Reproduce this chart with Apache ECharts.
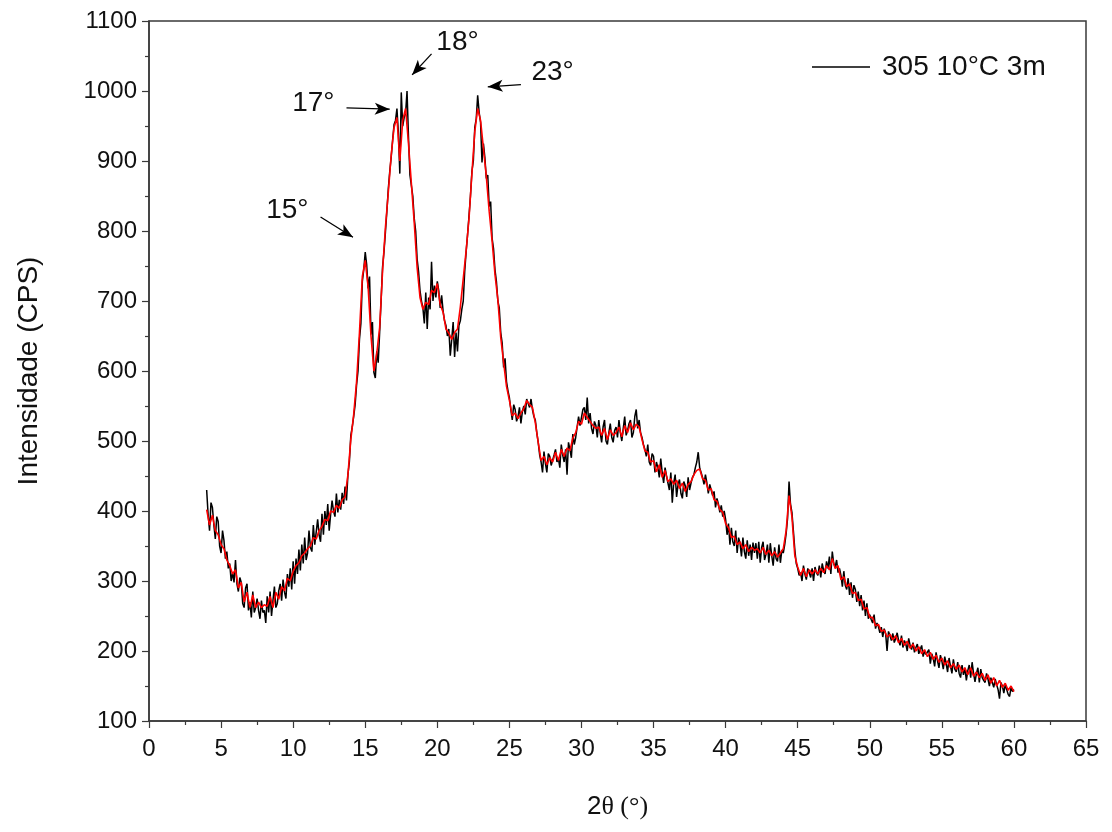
<!DOCTYPE html>
<html>
<head>
<meta charset="utf-8">
<script src="https://cdn.jsdelivr.net/npm/echarts@6/dist/echarts.min.js"></script>
<style>html,body{margin:0;padding:0;background:#fff;}#chart{width:1112px;height:832px;}</style>
</head>
<body>
<div id="chart"></div>
<script>
// 2θ scan parameters (degrees)
const scanStart = 4.0;
const rawStep = 0.1;
const smoothStep = 0.2;

// raw counts (black), one row per 2°
const rawCounts = [
  430,395,372,412,405,380,360,392,385,350,340,372,358,332,342,318,325,300,312,298,
  330,296,285,305,298,268,262,290,296,258,270,248,285,255,262,275,258,246,272,255,
  258,240,278,255,285,250,272,292,262,268,286,296,272,302,284,275,310,292,318,288,
  328,296,332,310,345,315,352,325,362,330,340,372,348,342,380,352,350,388,366,356,
  396,366,400,380,410,372,395,415,400,392,425,398,416,402,426,410,435,415,452,470,
  508,520,535,552,580,600,645,668,728,745,770,752,718,735,652,670,598,590,628,612,
  655,700,748,770,798,828,860,885,905,930,952,958,975,940,882,998,950,962,968,1000,
  935,880,865,850,818,800,760,742,715,700,690,668,712,660,705,688,756,700,722,705,
  728,715,690,708,686,672,665,650,660,622,645,670,620,655,628,665,672,688,700,742,
  770,795,822,850,885,900,948,960,994,970,955,898,925,905,875,880,835,842,790,775,
  745,728,700,690,655,640,605,618,585,572,562,545,530,552,545,528,535,548,525,542,
  550,538,560,562,548,560,545,535,530,512,498,480,470,455,485,468,455,482,478,465,
  465,480,488,470,475,462,495,480,470,488,452,498,488,476,510,495,505,520,535,522,
  520,545,548,530,562,525,540,518,510,528,522,505,530,512,498,520,530,500,495,512,
  525,505,498,515,520,505,530,512,500,518,535,508,515,525,530,505,512,535,545,518,
  530,512,505,495,488,478,495,470,465,482,478,455,470,462,448,475,455,440,462,450,
  448,430,455,412,440,452,420,438,445,425,418,442,436,420,448,430,440,448,452,462,
  470,484,462,455,448,438,452,440,425,438,430,422,428,405,418,410,398,408,392,400,
  388,366,382,352,376,356,350,372,340,362,354,335,362,342,332,358,336,352,330,355,
  340,354,332,356,326,348,356,330,338,352,326,354,336,322,348,332,328,352,326,344,
  340,352,368,390,442,410,398,372,345,325,318,308,312,300,322,310,302,318,312,305,
  318,300,320,312,308,322,305,325,315,310,328,318,335,310,342,325,320,330,312,318,
  308,292,314,294,288,304,280,298,276,294,288,270,285,264,280,258,272,250,268,246,
  252,245,240,252,232,240,235,226,234,220,232,225,200,228,222,215,225,212,218,226,
  215,208,222,205,215,210,200,218,208,202,212,198,205,210,196,202,208,192,200,195,
  194,202,182,196,190,178,198,186,176,194,186,174,192,182,170,190,178,168,188,174,
  170,184,168,162,180,166,176,158,172,180,162,184,168,156,168,176,155,174,162,158,
  155,168,160,150,162,155,148,160,152,145,132,155,150,140,152,145,138,135,148,142,
  145
];

// smoothed counts (red), one row per 2°
const smoothCounts = [
  402,380,394,372,366,352,346,330,322,310,
  316,290,298,270,284,262,280,262,270,262,
  266,264,278,262,284,274,292,286,304,300,
  314,322,326,336,340,346,350,362,360,372,
  378,388,386,400,398,408,404,416,420,452,
  502,538,585,655,735,758,720,650,600,625,
  662,742,805,855,908,948,962,900,958,975,
  925,868,812,748,705,688,698,695,715,712,
  725,695,684,660,654,645,655,660,692,732,
  772,818,882,942,975,958,918,878,828,786,
  738,702,648,612,578,558,536,540,532,540,
  546,558,552,548,526,498,472,478,466,476,
  470,484,472,488,478,490,486,504,512,528,
  524,540,534,528,522,518,520,508,518,502,
  516,508,512,520,506,522,512,526,516,524,
  520,502,486,484,470,472,456,466,448,458,
  442,446,438,444,432,440,428,438,442,452,
  458,460,446,444,430,432,416,414,402,398,
  382,376,362,364,352,356,346,352,342,348,
  344,346,340,348,338,344,336,342,334,340,
  346,372,422,392,336,320,308,318,306,316,
  310,316,310,318,312,322,316,332,318,322,
  302,306,292,296,282,284,272,274,260,262,
  248,248,236,238,228,230,220,224,216,222,
  212,218,208,214,204,210,200,206,196,202,
  192,198,188,194,184,190,180,186,176,182,
  174,180,170,176,166,176,164,170,162,168,
  158,166,154,162,150,158,148,154,144,150,
  142
];

// peak annotations: label, label position [2θ, I], arrow start, arrow end
const peakLabels = ['15°', '17°', '18°', '23°'];
const peakLabelPos = [[9.6, 830], [11.4, 983], [21.4, 1070], [28.0, 1027]];
const arrowFrom = [[11.9, 820], [13.7, 976], [19.6, 1053], [25.8, 1009]];
const arrowTo = [[14.15, 791], [16.7, 974], [18.25, 1023], [23.5, 1006]];

const xTicks = { min: 0, max: 65, interval: 5 };
const yTicks = { min: 100, max: 1100, interval: 100 };
const seriesName = '305 10°C 3m';

const angle = (i, step) => +(scanStart + i * step).toFixed(2);
const rawData = rawCounts.map((v, i) => [angle(i, rawStep), v]);
const smoothData = smoothCounts.map((v, i) => [angle(i, smoothStep), v]);

const FONT = 'Arial, "Liberation Sans", sans-serif';
const chart = echarts.init(document.getElementById('chart'), null, { renderer: 'canvas' });

chart.setOption({
  animation: false,
  backgroundColor: '#ffffff',
  grid: { left: 149, right: 26, top: 21, bottom: 111, show: true, borderColor: '#3a3a3a', borderWidth: 1.5, backgroundColor: 'transparent' },
  legend: {
    data: [seriesName],
    left: 807, top: 48,
    icon: 'rect', itemWidth: 58, itemHeight: 1.5, itemGap: 10,
    textStyle: { fontFamily: FONT, fontSize: 28, color: '#111', padding: [0, 0, 0, 7] }
  },
  xAxis: {
    type: 'value', min: xTicks.min, max: xTicks.max, interval: xTicks.interval,
    name: '{a|2}{b|θ (°)}', nameLocation: 'middle', nameGap: 73,
    nameTextStyle: { rich: {
      a: { fontFamily: FONT, fontSize: 26, color: '#111' },
      b: { fontFamily: '"Liberation Serif", "Times New Roman", serif', fontSize: 26, color: '#111' }
    } },
    axisLine: { onZero: false, lineStyle: { color: '#3a3a3a', width: 1.5 } },
    axisTick: { show: true, inside: false, length: 7, lineStyle: { color: '#3a3a3a', width: 1.2 } },
    minorTick: { show: true, splitNumber: 2, length: 4, lineStyle: { color: '#3a3a3a', width: 1.2 } },
    axisLabel: { fontFamily: FONT, fontSize: 24, color: '#111', margin: 16 },
    splitLine: { show: false }
  },
  yAxis: {
    type: 'value', min: yTicks.min, max: yTicks.max, interval: yTicks.interval,
    name: 'Intensidade (CPS)', nameLocation: 'middle', nameGap: 106, nameRotate: 90,
    nameTextStyle: { fontFamily: FONT, fontSize: 28, color: '#111' },
    axisLine: { onZero: false, lineStyle: { color: '#3a3a3a', width: 1.5 } },
    axisTick: { show: true, inside: false, length: 7, lineStyle: { color: '#3a3a3a', width: 1.2 } },
    minorTick: { show: true, splitNumber: 2, length: 4, lineStyle: { color: '#3a3a3a', width: 1.2 } },
    axisLabel: { fontFamily: FONT, fontSize: 24, color: '#111', margin: 12, formatter: v => String(v) },
    splitLine: { show: false }
  },
  series: [
    {
      name: seriesName, type: 'line', data: rawData, showSymbol: false, symbol: 'none',
      lineStyle: { color: '#000', width: 1.5 }, itemStyle: { color: '#000' }, z: 2
    },
    {
      name: 'smoothed', type: 'line', data: smoothData, showSymbol: false, symbol: 'none',
      lineStyle: { color: '#ff0000', width: 1.6 }, itemStyle: { color: '#ff0000' }, z: 3
    },
    {
      name: 'annotations', type: 'line', data: [], z: 5,
      markLine: {
        silent: true, animation: false,
        symbol: ['none', 'arrow'], symbolSize: [9, 15],
        lineStyle: { color: '#000', width: 1.3, type: 'solid' },
        label: { show: false },
        data: arrowFrom.map((p, i) => [{ coord: p }, { coord: arrowTo[i] }])
      },
      markPoint: {
        silent: true, animation: false, symbol: 'circle', symbolSize: 0,
        label: { show: true, position: 'inside', formatter: p => p.name, fontFamily: FONT, fontSize: 28, color: '#111' },
        data: peakLabels.map((t, i) => ({ name: t, coord: peakLabelPos[i] }))
      }
    }
  ]
});
</script>
</body>
</html>
